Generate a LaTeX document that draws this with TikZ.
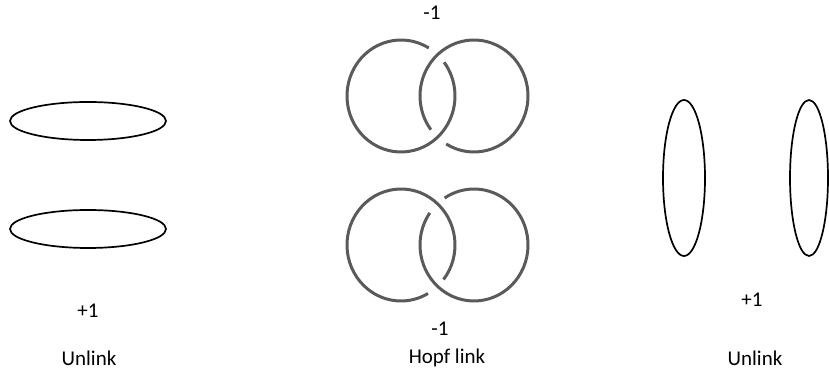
\documentclass[tikz,border=0pt]{standalone}
\usepackage{fontspec}
\setmainfont{Carlito}
\usepackage{xcolor}
\usepackage{tikz}
\usetikzlibrary{positioning}
\definecolor{strand}{HTML}{5A5A5A}

\begin{document}
\begin{tikzpicture}[x=1pt,y=1pt,font=\fontsize{21}{24}\selectfont,
  loop/.style={line width=1.7pt,black},
  hopf/.style={line width=3pt,strand}]
\useasboundingbox (0,0) rectangle (829,379);
% unlink, lying flat
\draw[loop] (88,258) ellipse[x radius=78,y radius=19];
\draw[loop] (88,150) ellipse[x radius=78,y radius=19];
\node (flatsign) at (88,68) {+1};
\node (flatname) at (89,21) {Unlink};
% hopf link, two crossings each
\coordinate (topL) at (401,283);
\coordinate (topR) at (474,283);
\coordinate (lowL) at (401,134);
\coordinate (lowR) at (474,134);
\draw[hopf] (topL) ++(59:54 and 56) arc[start angle=59,end angle=397,x radius=54,y radius=56];
\draw[hopf] (topR) ++(239:54 and 56) arc[start angle=239,end angle=577,x radius=54,y radius=56];
\draw[hopf] (lowL) ++(322:54 and 56) arc[start angle=322,end angle=660,x radius=54,y radius=56];
\draw[hopf] (lowR) ++(145:54 and 56) arc[start angle=145,end angle=483,x radius=54,y radius=56];
\node (topsign) at (432,366) {-1};
\node (lowsign) at (440,50) {-1};
\node (hopfname) at (447,21) {Hopf link};
% unlink, standing up
\draw[loop] (684,201) ellipse[x radius=21,y radius=78];
\draw[loop] (809,201) ellipse[x radius=19,y radius=78];
\node (uprsign) at (752,79) {+1};
\node (uprname) at (755,21) {Unlink};
\end{tikzpicture}
\end{document}
